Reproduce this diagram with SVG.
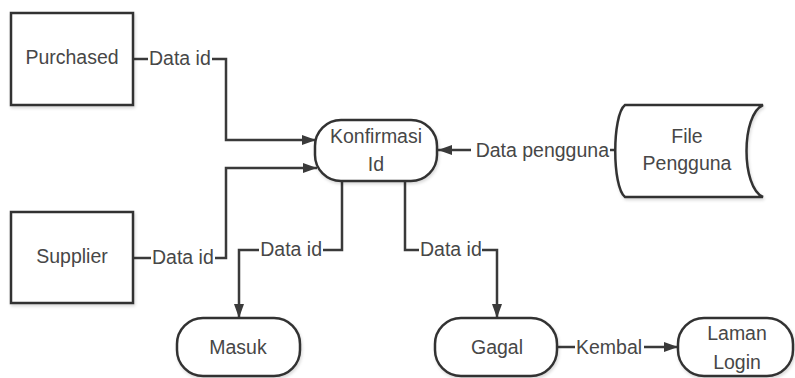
<svg xmlns="http://www.w3.org/2000/svg" width="795" height="378" viewBox="0 0 795 378">
  <style>
    .node { fill: #ffffff; stroke: #333333; stroke-width: 2.5; }
    .label { font-family: "Liberation Sans", Arial, sans-serif; font-size: 19.5px; fill: #474747; }
    .mid { text-anchor: middle; }
    .end { text-anchor: end; }
    .wire { fill: none; stroke: #3a3a3a; stroke-width: 2.5; }
  </style>
  <defs>
    <marker id="arrow" markerUnits="userSpaceOnUse" markerWidth="16" markerHeight="12" refX="14" refY="5" orient="auto">
      <path d="M0,0 L14,5 L0,10 Z" fill="#3a3a3a"/>
    </marker>
    <filter id="shade" x="-10%" y="-10%" width="130%" height="130%">
      <feDropShadow dx="1" dy="2" stdDeviation="1.5" flood-color="#000000" flood-opacity="0.15"/>
    </filter>
  </defs>
  <rect width="795" height="378" fill="#ffffff"/>

  <!-- connectors -->
  <g id="connectors">
    <!-- Purchased to Konfirmasi Id -->
    <path class="wire" d="M133,59 H148"/>
    <text class="label" x="149" y="65">Data id</text>
    <path class="wire" d="M212,59 H226 V140 H316" marker-end="url(#arrow)"/>
    <!-- Supplier to Konfirmasi Id -->
    <path class="wire" d="M133,258 H151"/>
    <text class="label" x="152" y="264">Data id</text>
    <path class="wire" d="M215,258 H226 V168 H317" marker-end="url(#arrow)"/>
    <!-- File Pengguna to Konfirmasi Id -->
    <path class="wire" d="M617,150 H610"/>
    <text class="label end" x="609" y="157">Data pengguna</text>
    <path class="wire" d="M471,150 H438" marker-end="url(#arrow)"/>
    <!-- Konfirmasi Id to Masuk -->
    <path class="wire" d="M342,181 V250 H323"/>
    <text class="label end" x="322" y="256">Data id</text>
    <path class="wire" d="M259,250 H239 V318" marker-end="url(#arrow)"/>
    <!-- Konfirmasi Id to Gagal -->
    <path class="wire" d="M405,181 V250 H419"/>
    <text class="label" x="420" y="256">Data id</text>
    <path class="wire" d="M482,250 H497 V318" marker-end="url(#arrow)"/>
    <!-- Gagal to Laman Login -->
    <path class="wire" d="M557,347 H575"/>
    <text class="label" x="576" y="354">Kembal</text>
    <path class="wire" d="M644,347 H678" marker-end="url(#arrow)"/>
  </g>

  <!-- external entities -->
  <g id="purchased">
    <rect class="node" x="11" y="13" width="122" height="92" filter="url(#shade)"/>
    <text class="label mid" x="72" y="64">Purchased</text>
  </g>
  <g id="supplier">
    <rect class="node" x="11" y="212" width="122" height="91" filter="url(#shade)"/>
    <text class="label mid" x="72" y="263">Supplier</text>
  </g>

  <!-- process -->
  <g id="konfirmasi-id">
    <rect class="node" x="315" y="120" width="122" height="61" rx="26" ry="26" filter="url(#shade)"/>
    <text class="label mid" x="376" y="143">Konfirmasi</text>
    <text class="label mid" x="376" y="171">Id</text>
  </g>

  <!-- data store -->
  <g id="file-pengguna">
    <path class="node" d="M625,105 H763 C741,115 741,187 763,197 H625 C612,187 612,115 625,105 Z" filter="url(#shade)"/>
    <text class="label mid" x="687" y="143">File</text>
    <text class="label mid" x="687" y="170">Pengguna</text>
  </g>

  <!-- outcomes -->
  <g id="masuk">
    <rect class="node" x="177" y="318" width="123" height="58" rx="26" ry="26" filter="url(#shade)"/>
    <text class="label mid" x="238" y="354">Masuk</text>
  </g>
  <g id="gagal">
    <rect class="node" x="435" y="318" width="122" height="58" rx="26" ry="26" filter="url(#shade)"/>
    <text class="label mid" x="497" y="354">Gagal</text>
  </g>
  <g id="laman-login">
    <rect class="node" x="678" y="318" width="115" height="58" rx="26" ry="26" filter="url(#shade)"/>
    <text class="label mid" x="737" y="340">Laman</text>
    <text class="label mid" x="737" y="369">Login</text>
  </g>
</svg>
